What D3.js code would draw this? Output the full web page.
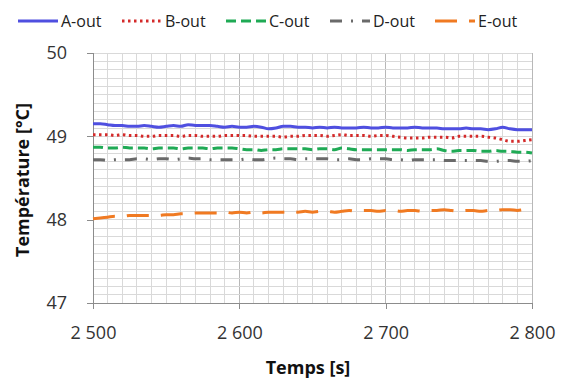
<!DOCTYPE html>
<html><head><meta charset="utf-8">
<script src="https://cdn.jsdelivr.net/npm/d3@7"></script>
<style>body{margin:0;background:#fff}svg{display:block}text{font-family:"Open Sans","Liberation Sans",sans-serif}</style>
</head><body><svg id="c" width="564" height="381"></svg>
<script>
const times = d3.range(2500, 2801, 5);
const seriesNames = ["A-out","B-out","C-out","D-out","E-out"];
const aOut = [49.15,49.15,49.14,49.13,49.13,49.12,49.12,49.13,49.12,49.11,49.12,49.13,49.12,49.14,49.13,49.13,49.13,49.12,49.11,49.12,49.11,49.11,49.12,49.11,49.09,49.10,49.12,49.12,49.11,49.11,49.10,49.11,49.10,49.11,49.10,49.10,49.10,49.11,49.10,49.10,49.11,49.10,49.10,49.10,49.11,49.10,49.10,49.10,49.09,49.09,49.09,49.10,49.09,49.09,49.08,49.09,49.11,49.09,49.08,49.08,49.08];
const bOut = [49.02,49.02,49.02,49.01,49.02,49.01,49.01,49.00,49.00,49.01,49.01,49.01,49.00,49.01,49.01,49.00,49.00,49.00,49.01,49.01,49.01,49.01,49.00,49.00,49.00,49.00,48.99,49.00,49.00,49.01,49.01,49.01,49.00,49.01,49.02,49.01,49.01,49.01,49.00,49.01,49.01,49.00,48.99,48.98,48.98,48.98,48.99,48.99,48.99,48.98,49.00,49.00,49.00,49.00,48.99,48.98,48.96,48.94,48.94,48.95,48.96];
const cOut = [48.87,48.87,48.86,48.86,48.87,48.86,48.86,48.86,48.85,48.86,48.86,48.86,48.85,48.86,48.86,48.86,48.85,48.86,48.86,48.86,48.85,48.84,48.84,48.83,48.84,48.84,48.85,48.85,48.85,48.85,48.84,48.85,48.85,48.84,48.86,48.85,48.84,48.84,48.84,48.84,48.84,48.84,48.84,48.83,48.84,48.84,48.84,48.85,48.83,48.82,48.83,48.83,48.83,48.82,48.82,48.83,48.82,48.82,48.81,48.81,48.80];
const dOut = [48.72,48.72,48.71,48.72,48.72,48.72,48.73,48.73,48.72,48.73,48.73,48.72,48.73,48.74,48.73,48.73,48.72,48.72,48.72,48.72,48.72,48.73,48.72,48.72,48.73,48.74,48.73,48.73,48.72,48.73,48.73,48.73,48.73,48.72,48.72,48.73,48.72,48.72,48.73,48.73,48.73,48.72,48.72,48.71,48.72,48.72,48.72,48.72,48.71,48.71,48.71,48.71,48.71,48.71,48.70,48.70,48.71,48.71,48.70,48.70,48.71];
const eOut = [48.01,48.02,48.03,48.04,48.04,48.05,48.05,48.05,48.05,48.05,48.06,48.06,48.07,48.07,48.08,48.08,48.08,48.08,48.09,48.08,48.09,48.08,48.09,48.08,48.09,48.09,48.09,48.10,48.09,48.10,48.09,48.10,48.10,48.09,48.10,48.11,48.10,48.11,48.11,48.10,48.11,48.11,48.10,48.11,48.11,48.10,48.11,48.11,48.12,48.11,48.10,48.11,48.11,48.10,48.11,48.11,48.12,48.12,48.11,48.12,48.11];
const xTicks = [2500,2600,2700,2800];
const yTicks = [47,48,49,50];
const xLabel = "Temps [s]";
const yLabel = "Température [°C]";

const seriesValues = [aOut,bOut,cOut,dOut,eOut];
const colors = ["#4f4fe0","#d42a2a","#1faa55","#6a6a6a","#f07a22"];
const dashes = [null,"2.5,3.5","10,5","12,9,2,9","22,12"];

const svg = d3.select("#c");
const m = {l:93,r:32,t:53,b:78};
const W=564,H=381;
const x = d3.scaleLinear().domain([2500,2800]).range([m.l, W-m.r]);
const y = d3.scaleLinear().domain([47,50]).range([H-m.b, m.t]);

// minor grid
const g = svg.append("g");
g.selectAll("line.vx").data(d3.range(2500,2801,10)).join("line")
 .attr("x1",d=>x(d)).attr("x2",d=>x(d)).attr("y1",y(47)).attr("y2",y(50))
 .attr("stroke",d=>d%100===0?"#b8b8b8":"#d9d9d9").attr("stroke-width",1).attr("shape-rendering","crispEdges");
g.selectAll("line.hy").data(d3.range(0,31).map(i=>47+i*0.1)).join("line")
 .attr("y1",d=>y(d)).attr("y2",d=>y(d)).attr("x1",x(2500)).attr("x2",x(2800))
 .attr("stroke","#d9d9d9").attr("stroke-width",1).attr("shape-rendering","crispEdges");
g.append("line").attr("x1",x(2800)).attr("x2",x(2800)).attr("y1",y(47)).attr("y2",y(50)).attr("stroke","#b8b8b8").attr("shape-rendering","crispEdges");

// axes
const ya = svg.append("g").attr("transform",`translate(${m.l},0)`)
 .call(d3.axisLeft(y).tickValues(yTicks).tickSize(6).tickFormat(d3.format("d")));
const xa = svg.append("g").attr("transform",`translate(0,${H-m.b})`)
 .call(d3.axisBottom(x).tickValues(xTicks).tickSize(6).tickFormat(d=>d3.format(",")(d).replace(","," ")));
[ya,xa].forEach(a=>{a.select(".domain").attr("stroke","#8c8c8c").attr("shape-rendering","crispEdges");
 a.selectAll(".tick line").attr("stroke","#8c8c8c").attr("shape-rendering","crispEdges");
 a.selectAll("text").attr("fill","#333").style("font-size","18px");});
ya.selectAll("text").attr("x",-26);
xa.selectAll("text").attr("y",23);

// lines
const line = d3.line().x((d,i)=>x(times[i])).y(d=>y(d)).curve(d3.curveMonotoneX);
seriesValues.forEach((vals,k)=>{
  svg.append("path").datum(vals).attr("d",line).attr("fill","none")
   .attr("stroke",colors[k]).attr("stroke-width",3)
   .attr("stroke-dasharray",dashes[k]);
});

// axis titles
svg.append("text").attr("x",308).attr("y",374).attr("text-anchor","middle")
 .style("font-size","18px").style("font-weight","bold").attr("fill","#111").text(xLabel);
svg.append("text").attr("transform",`translate(29,180) rotate(-90)`).attr("text-anchor","middle")
 .style("font-size","18px").style("font-weight","bold").attr("fill","#111").text(yLabel);

// legend
const lx = [18,122,226,330,435];
const leg = svg.append("g");
seriesNames.forEach((n,k)=>{
  leg.append("line").attr("x1",lx[k]).attr("x2",lx[k]+40).attr("y1",21).attr("y2",21)
   .attr("stroke",colors[k]).attr("stroke-width",3).attr("stroke-dasharray",dashes[k]);
  leg.append("text").attr("x",lx[k]+43).attr("y",27).style("font-size","16px").attr("fill","#222").text(n);
});
</script></body></html>
